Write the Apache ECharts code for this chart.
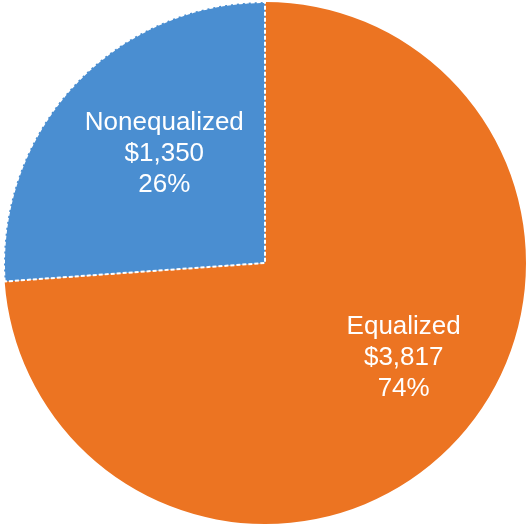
<!DOCTYPE html>
<html>
<head>
<meta charset="utf-8">
<script src="https://cdn.jsdelivr.net/npm/echarts@6/dist/echarts.min.js"></script>
<style>html,body{margin:0;padding:0;background:#fff;}#c{width:528px;height:526px;}</style>
</head>
<body>
<div id="c"></div>
<script>
const categories = ['Equalized', 'Nonequalized'];
const values = [3817, 1350];
const percents = ['74%', '26%'];
const colors = ['#EC7422', '#4A8ED1'];
const labelOffsets = [[41, 4], [-3, -18]];

const chart = echarts.init(document.getElementById('c'), null, {renderer: 'canvas'});
const data = categories.map((name, i) => ({
  name: name,
  value: values[i],
  itemStyle: i === 1
    ? {color: colors[i], borderColor: '#fff', borderWidth: 2, borderType: [4, 2]}
    : {color: colors[i], borderWidth: 0}
}));
chart.setOption({
  animation: false,
  series: [{
    type: 'pie',
    center: [265, 263],
    radius: [0, 261],
    startAngle: 90,
    clockwise: true,
    data: data,
    label: {
      show: true,
      position: 'inside',
      color: '#fff',
      fontFamily: '"Liberation Sans", Arial, sans-serif',
      fontSize: 26,
      lineHeight: 31,
      align: 'center',
      formatter: function (p) {
        return p.name + '\n$' + p.value.toLocaleString('en-US') + '\n' + percents[p.dataIndex];
      }
    },
    labelLine: {show: false},
    labelLayout: function (p) {
      const o = labelOffsets[p.dataIndex];
      return {dx: o[0], dy: o[1]};
    },
    emphasis: {disabled: true}
  }]
});
</script>
</body>
</html>
